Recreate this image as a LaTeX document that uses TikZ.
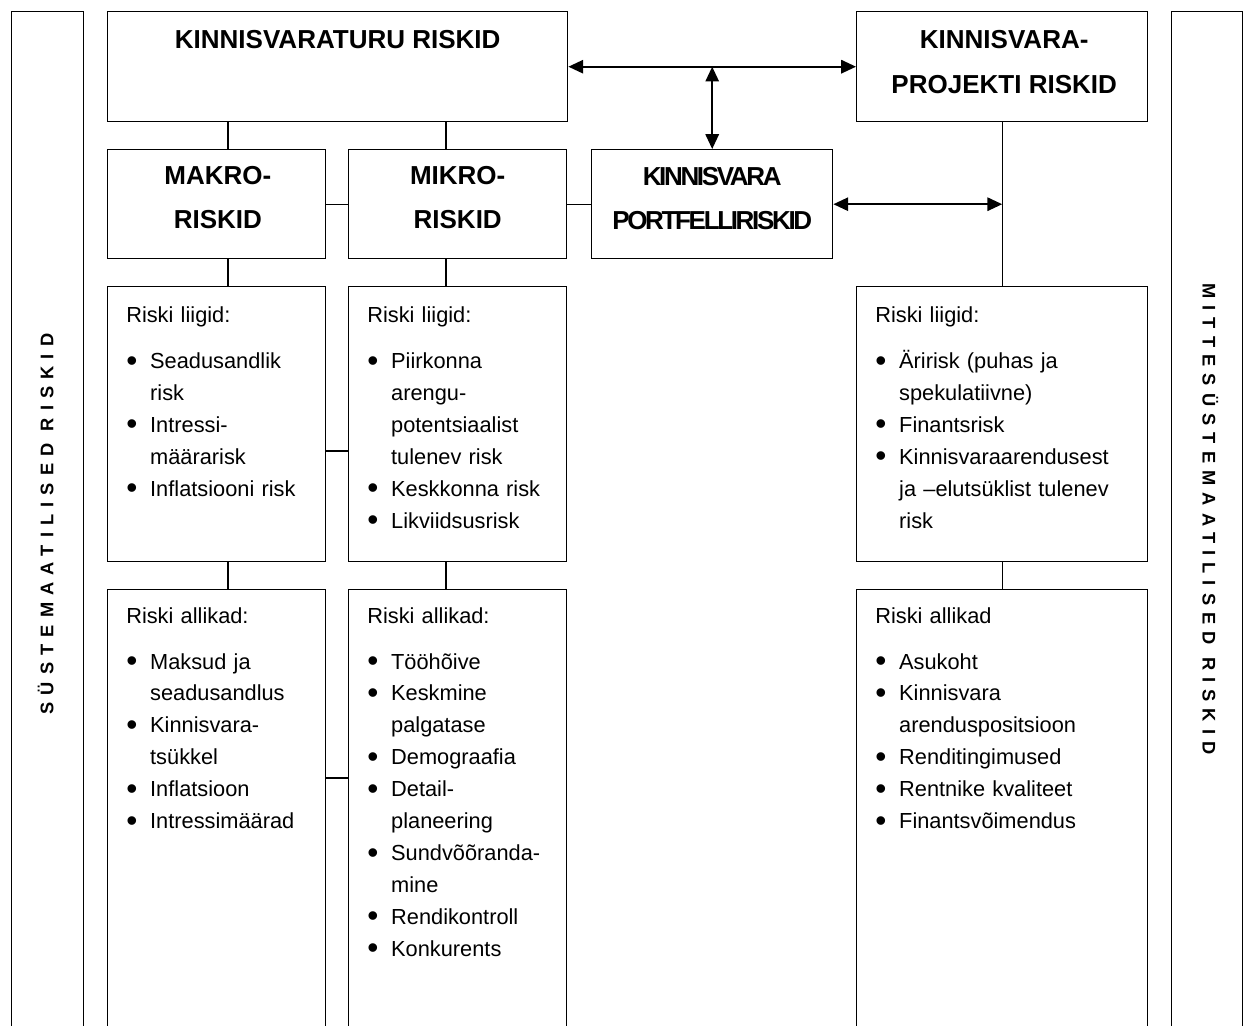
\documentclass[tikz,border=0pt]{standalone}
\usepackage{fontspec}
\setmainfont{Liberation Sans}
\usepackage{graphicx}
\usepackage{tikz}
\usetikzlibrary{positioning,calc,arrows.meta}
\setlength{\parindent}{0pt}
\newcommand{\pealkirjakiri}{\fontsize{18.5}{31.6}\selectfont\bfseries}
\newcommand{\loendikiri}{\fontsize{15.5}{22.7}\selectfont}
\newcommand{\kyljekiri}{\fontsize{13}{15}\selectfont\bfseries\addfontfeatures{LetterSpace=39}}
% bullet line and continuation line
\newcommand{\punkt}[1]{\par\noindent\makebox[17pt][l]{\raisebox{-0.12em}{\scalebox{1.45}{\textbullet}}}#1}
\newcommand{\jatk}[1]{\par\noindent\hspace*{17pt}#1}
\tikzset{
    kast/.style={
        draw,
        line width=1pt,
        inner sep=0pt,
        anchor=north west
    },
    pealkiri/.style={
        font=\pealkirjakiri,
        align=center,
        inner sep=0pt
    },
    loend/.style={
        font=\loendikiri,
        anchor=north west,
        align=left,
        inner sep=0pt
    },
    kylg/.style={
        font=\kyljekiri,
        inner sep=0pt
    },
    yhendus/.style={line width=0.8pt},
    nool/.style={
        line width=1.3pt,
        {Triangle[length=10.5pt,width=9.5pt]}-{Triangle[length=10.5pt,width=9.5pt]}
    }
}

\begin{document}
\begin{tikzpicture}

\useasboundingbox (0,0) rectangle (31.2,-25.625);
\clip (0,0) rectangle (31.2,-25.625);

% ============================================================
% SIDE COLUMNS
% ============================================================

\node[kast, minimum width=1.8cm, minimum height=27cm] (sys) at (0.275,-0.275) {};
\node[kast, minimum width=1.775cm, minimum height=27cm] (mitte) at (29.275,-0.275) {};

\node[kylg, rotate=90] (sysnimi) at (1.14,-13.1) {SÜSTEMAATILISED RISKID};
\node[kylg, rotate=-90] (mittenimi) at (30.26,-12.975) {MITTESÜSTEMAATILISED RISKID};

% ============================================================
% TOP ROW
% ============================================================

\node[kast, minimum width=11.5cm, minimum height=2.75cm] (turg) at (2.675,-0.275) {};
\node[pealkiri] (turgnimi) at ($(turg.north)+(0,-0.725)$) {KINNISVARATURU RISKID};

\node[kast, minimum width=7.275cm, minimum height=2.75cm] (projekt) at (21.4,-0.275) {};
\node[pealkiri] (projektnimi) at ($(projekt.north)+(0.05,-1.275)$) {KINNISVARA-\\PROJEKTI RISKID};

% ============================================================
% SECOND ROW
% ============================================================

\node[kast, minimum width=5.45cm, minimum height=2.725cm] (makro) at (2.675,-3.725) {};
\node[pealkiri] (makronimi) at ($(makro.north)+(0.03,-1.2125)$) {MAKRO-\\RISKID};

\node[kast, minimum width=5.45cm, minimum height=2.725cm] (mikro) at (8.7,-3.725) {};
\node[pealkiri] (mikronimi) at ($(mikro.north)+(0,-1.2125)$) {MIKRO-\\RISKID};

\node[kast, minimum width=6.025cm, minimum height=2.725cm] (portf) at (14.775,-3.725) {};
\node[pealkiri] (portfnimi) at ($(portf.north)+(0,-1.2375)$)
{\addfontfeatures{LetterSpace=-9}KINNISVARA\\\addfontfeatures{LetterSpace=-9}PORTFELLIRISKID};

% ============================================================
% RISK TYPES
% ============================================================

\node[kast, minimum width=5.45cm, minimum height=6.875cm] (makroliik) at (2.675,-7.15) {};
\node[loend, text width=4.7cm] (makroliiktekst) at ($(makroliik.north west)+(0.475,-0.51)$)
{Riski liigid:\par\vspace{10pt}
\punkt{Seadusandlik}\jatk{risk}
\punkt{Intressi-}\jatk{määrarisk}
\punkt{Inflatsiooni risk}};

\node[kast, minimum width=5.45cm, minimum height=6.875cm] (mikroliik) at (8.7,-7.15) {};
\node[loend, text width=4.7cm] (mikroliiktekst) at ($(mikroliik.north west)+(0.475,-0.51)$)
{Riski liigid:\par\vspace{10pt}
\punkt{Piirkonna}\jatk{arengu-}\jatk{potentsiaalist}\jatk{tulenev risk}
\punkt{Keskkonna risk}
\punkt{Likviidsusrisk}};

\node[kast, minimum width=7.275cm, minimum height=6.875cm] (projliik) at (21.4,-7.15) {};
\node[loend, text width=6.5cm] (projliiktekst) at ($(projliik.north west)+(0.475,-0.51)$)
{Riski liigid:\par\vspace{10pt}
\punkt{Äririsk (puhas ja}\jatk{spekulatiivne)}
\punkt{Finantsrisk}
\punkt{Kinnisvaraarendusest}\jatk{ja –elutsüklist tulenev}\jatk{risk}};

% ============================================================
% RISK SOURCES
% ============================================================

\node[kast, minimum width=5.45cm, minimum height=12cm] (makroallik) at (2.675,-14.725) {};
\node[loend, text width=4.7cm] (makroalliktekst) at ($(makroallik.north west)+(0.475,-0.45)$)
{Riski allikad:\par\vspace{10pt}
\punkt{Maksud ja}\jatk{seadusandlus}
\punkt{Kinnisvara-}\jatk{tsükkel}
\punkt{Inflatsioon}
\punkt{Intressimäärad}};

\node[kast, minimum width=5.45cm, minimum height=12cm] (mikroallik) at (8.7,-14.725) {};
\node[loend, text width=4.7cm] (mikroalliktekst) at ($(mikroallik.north west)+(0.475,-0.45)$)
{Riski allikad:\par\vspace{10pt}
\punkt{Tööhõive}
\punkt{Keskmine}\jatk{palgatase}
\punkt{Demograafia}
\punkt{Detail-}\jatk{planeering}
\punkt{Sundvõõranda-}\jatk{mine}
\punkt{Rendikontroll}
\punkt{Konkurents}};

\node[kast, minimum width=7.275cm, minimum height=12cm] (projallik) at (21.4,-14.725) {};
\node[loend, text width=6.5cm] (projalliktekst) at ($(projallik.north west)+(0.475,-0.45)$)
{Riski allikad\par\vspace{10pt}
\punkt{Asukoht}
\punkt{Kinnisvara}\jatk{arenduspositsioon}
\punkt{Renditingimused}
\punkt{Rentnike kvaliteet}
\punkt{Finantsvõimendus}};

% ============================================================
% CONNECTORS
% ============================================================

\coordinate (makrotelg) at (5.7,0);
\coordinate (mikrotelg) at (11.15,0);
\coordinate (liigiside) at (0,-11.275);
\coordinate (allikaside) at (0,-19.45);

\draw[yhendus] (turg.south -| makrotelg) -- (makro.north -| makrotelg);
\draw[yhendus] (makro.south -| makrotelg) -- (makroliik.north -| makrotelg);
\draw[yhendus] (makroliik.south -| makrotelg) -- (makroallik.north -| makrotelg);

\draw[yhendus] (turg.south -| mikrotelg) -- (mikro.north -| mikrotelg);
\draw[yhendus] (mikro.south -| mikrotelg) -- (mikroliik.north -| mikrotelg);
\draw[yhendus] (mikroliik.south -| mikrotelg) -- (mikroallik.north -| mikrotelg);

\draw[yhendus] (makro) -- (mikro);
\draw[yhendus] (mikro) -- (portf);
\draw[yhendus] (makroliik.east |- liigiside) -- (mikroliik.west |- liigiside);
\draw[yhendus] (makroallik.east |- allikaside) -- (mikroallik.west |- allikaside);

\draw[yhendus] (projekt.south) -- (projliik.north);
\draw[yhendus] (projliik.south) -- (projallik.north);

% arrows
\draw[nool] (turg.east) -- (projekt.west);
\draw[nool] (turg.east -| portf.north) -- (portf.north);
\draw[nool] (portf.east) -- (portf.east -| projekt.south);

\end{tikzpicture}
\end{document}
